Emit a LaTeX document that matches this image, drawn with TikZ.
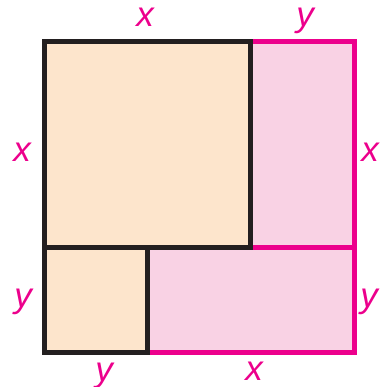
\documentclass[tikz,border=0pt]{standalone}
\usepackage{fontspec}
\setmainfont{Liberation Sans}
\definecolor{peach}{HTML}{FDE5CC}
\definecolor{pinkfill}{HTML}{F9D2E4}
\definecolor{magentaline}{HTML}{EC008C}
\definecolor{darkline}{HTML}{231F20}
\begin{document}
\begin{tikzpicture}[x=1pt,y=-1pt,
  pinkrect/.style={fill=pinkfill,draw=magentaline,line width=5pt},
  peachrect/.style={fill=peach,draw=darkline,line width=5pt},
  lbl/.style={text=magentaline,font=\fontsize{35}{35}\selectfont\itshape,inner sep=0pt,anchor=base}]
\useasboundingbox (0,0) rectangle (381,387);
% pink rectangles
\path[pinkrect] (250.5,41.5) rectangle (354.5,247.5);
\path[pinkrect] (147,247.5) rectangle (354.5,352.5);
% peach squares
\path[peachrect] (44.5,41.5) rectangle (250.5,247.5);
\path[peachrect] (44.5,247.5) rectangle (147,352.5);
% labels
\node[lbl] (tx) at (145,27) {x};
\node[lbl] (ty) at (305,27) {y};
\node[lbl] (lx) at (22,162) {x};
\node[lbl] (ly) at (23,307) {y};
\node[lbl] (rx) at (370,162) {x};
\node[lbl] (ry) at (369,307) {y};
\node[lbl] (by) at (104,381) {y};
\node[lbl] (bx) at (254,380) {x};
\end{tikzpicture}
\end{document}
